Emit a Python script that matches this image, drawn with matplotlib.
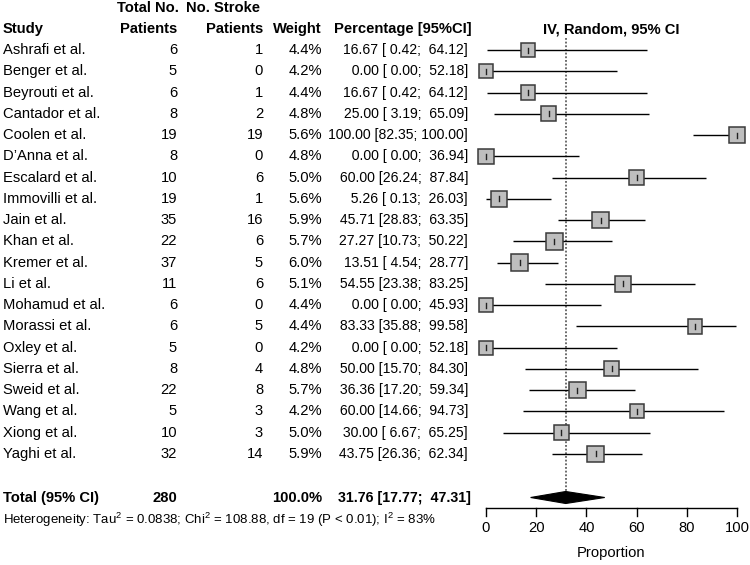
import matplotlib
matplotlib.use("Agg")
import matplotlib.pyplot as plt
from matplotlib.patches import Rectangle, Polygon
import numpy as np

plt.rcParams['font.family'] = ['Liberation Sans', 'DejaVu Sans']
plt.rcParams['mathtext.fontset'] = 'custom'
plt.rcParams['mathtext.rm'] = 'Liberation Sans'
plt.rcParams['mathtext.it'] = 'Liberation Sans:italic'
plt.rcParams['mathtext.bf'] = 'Liberation Sans:bold'

studies = ["Ashrafi et al.", "Benger et al.", "Beyrouti et al.", "Cantador et al.",
           "Coolen et al.", "D\u2019Anna et al.", "Escalard et al.", "Immovilli et al.",
           "Jain et al.", "Khan et al.", "Kremer et al.", "Li et al.", "Mohamud et al.",
           "Morassi et al.", "Oxley et al.", "Sierra et al.", "Sweid et al.",
           "Wang et al.", "Xiong et al.", "Yaghi et al."]
total_patients = [6, 5, 6, 8, 19, 8, 10, 19, 35, 22, 37, 11, 6, 6, 5, 8, 22, 5, 10, 32]
stroke_patients = [1, 0, 1, 2, 19, 0, 6, 1, 16, 6, 5, 6, 0, 5, 0, 4, 8, 3, 3, 14]
weights = [4.4, 4.2, 4.4, 4.8, 5.6, 4.8, 5.0, 5.6, 5.9, 5.7, 6.0, 5.1, 4.4, 4.4, 4.2,
           4.8, 5.7, 4.2, 5.0, 5.9]
estimates = [16.67, 0.00, 16.67, 25.00, 100.00, 0.00, 60.00, 5.26, 45.71, 27.27,
             13.51, 54.55, 0.00, 83.33, 0.00, 50.00, 36.36, 60.00, 30.00, 43.75]
lower_ci = [0.42, 0.00, 0.42, 3.19, 82.35, 0.00, 26.24, 0.13, 28.83, 10.73, 4.54,
            23.38, 0.00, 35.88, 0.00, 15.70, 17.20, 14.66, 6.67, 26.36]
upper_ci = [64.12, 52.18, 64.12, 65.09, 100.00, 36.94, 87.84, 26.03, 63.35, 50.22,
            28.77, 83.25, 45.93, 99.58, 52.18, 84.30, 59.34, 94.73, 65.25, 62.34]
pooled_total = 280
pooled_est, pooled_lo, pooled_hi = 31.76, 17.77, 47.31
xticks = [0, 20, 40, 60, 80, 100]
het_text = ("Heterogeneity: Tau$^2$ = 0.0838; Chi$^2$ = 108.88, df = 19 "
            "(P < 0.01); I$^2$ = 83%")

W, H = 750, 565
fig = plt.figure(figsize=(W / 100, H / 100), dpi=100)
tx = fig.add_axes([0, 0, 1, 1])
tx.set_xlim(0, W)
tx.set_ylim(H, 0)
tx.axis('off')

FS = 10.6
FSP = 10.1
y0, dy = 50.0, 21.26
rows_y = [y0 + i * dy for i in range(len(studies))]
y_total = 498
y_het = 520

# headers
hb = dict(fontsize=FS, fontweight='bold', va='center')
tx.text(3, 29, "Study", ha='left', **hb)
tx.text(148, 8, "Total No.", ha='center', **hb)
tx.text(177, 29, "Patients", ha='right', **hb)
tx.text(260, 8, "No. Stroke", ha='right', **hb)
tx.text(263, 29, "Patients", ha='right', **hb)
tx.text(322, 29, "Weight", ha='right', **hb)
tx.text(472, 29, "Percentage [95%CI]", ha='right', **hb)
tx.text(611, 29, "IV, Random, 95% CI", ha='center', **hb)

def fmt(e, lo, hi):
    return "%6.2f [%5.2f; %6.2f]" % (e, lo, hi)

for i, y in enumerate(rows_y):
    tx.text(3, y, studies[i], ha='left', va='center', fontsize=FS)
    tx.text(177, y, str(total_patients[i]), ha='right', va='center', fontsize=FS)
    tx.text(263, y, str(stroke_patients[i]), ha='right', va='center', fontsize=FS)
    tx.text(322, y, "%.1f%%" % weights[i], ha='right', va='center', fontsize=FS)
    tx.text(468, y, fmt(estimates[i], lower_ci[i], upper_ci[i]), ha='right',
            va='center', fontsize=FSP)

tx.text(3, y_total, "Total (95% CI)", ha='left', **hb)
tx.text(177, y_total, str(pooled_total), ha='right', **hb)
tx.text(322, y_total, "100.0%", ha='right', **hb)
tx.text(471, y_total, fmt(pooled_est, pooled_lo, pooled_hi), ha='right',
        fontsize=FSP + 0.2, fontweight='bold', va='center')
tx.text(3, y_het, het_text, ha='left', va='center', fontsize=9.5)

# forest axes: x data 0..100 -> px 486..737
x0px, x1px = 486, 737
fx = fig.add_axes([x0px / W, 0, (x1px - x0px) / W, 1])
fx.set_xlim(0, 100)
fx.set_ylim(H, 0)
fx.axis('off')
pxu = 100.0 / (x1px - x0px)  # data units per pixel in x

for i, y in enumerate(rows_y):
    fx.plot([lower_ci[i], upper_ci[i]], [y, y], color='black', lw=1.0, zorder=2,
            clip_on=False, solid_capstyle='butt')
    side = 6.9 * np.sqrt(weights[i])
    fx.add_patch(Rectangle((estimates[i] - side / 2 * pxu, y - side / 2), side * pxu,
                           side, facecolor='#bebebe', edgecolor='#3a3a3a', lw=1.1,
                           zorder=3, clip_on=False))
    fx.plot([estimates[i], estimates[i]], [y - 2.5, y + 2.5], color='#222222', lw=1.0,
            zorder=4, clip_on=False)

# pooled line and diamond
fx.plot([pooled_est, pooled_est], [38, y_total - 6], color='#444444', lw=1.1,
        linestyle=(0, (1.2, 1.2)), zorder=1)
fx.add_patch(Polygon([[pooled_lo, y_total - 0.5], [pooled_est, y_total - 6.5],
                      [pooled_hi, y_total - 0.5], [pooled_est, y_total + 5.5]],
                     closed=True, facecolor='black', edgecolor='black', lw=0.8,
                     zorder=3))

# x axis
y_ax = 508
fx.plot([0, 100], [y_ax, y_ax], color='black', lw=1.0, clip_on=False)
for t in xticks:
    fx.plot([t, t], [y_ax, y_ax + 8], color='black', lw=1.0, clip_on=False)
    fx.text(t, 528, str(t), ha='center', va='center', fontsize=FS)
fx.text(50, 553, "Proportion", ha='center', va='center', fontsize=FS)

fig.savefig("out.png", dpi=100)
